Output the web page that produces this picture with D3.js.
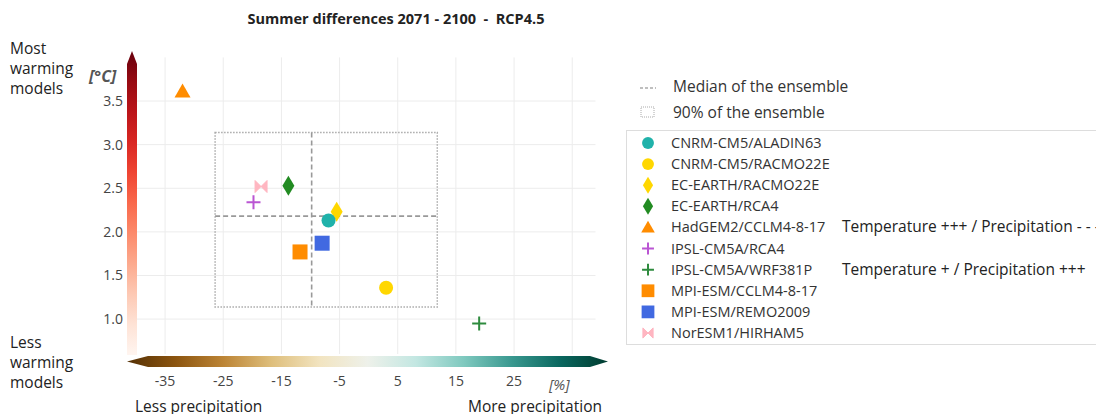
<!DOCTYPE html>
<html>
<head>
<meta charset="utf-8">
<script src="https://cdn.jsdelivr.net/npm/d3@7"></script>
<style>
  body { margin: 0; background: #fff; }
  svg { display: block; font-family: "Open Sans", "Noto Sans", sans-serif; }
</style>
</head>
<body>
<svg id="chart" width="1096" height="414"></svg>
<script>
// data
const models = ["CNRM-CM5/ALADIN63", "CNRM-CM5/RACMO22E", "EC-EARTH/RACMO22E", "EC-EARTH/RCA4",
  "HadGEM2/CCLM4-8-17", "IPSL-CM5A/RCA4", "IPSL-CM5A/WRF381P", "MPI-ESM/CCLM4-8-17",
  "MPI-ESM/REMO2009", "NorESM1/HIRHAM5"];
const precip = [-6.9, 3.0, -5.5, -13.8, -32.0, -19.8, 19.0, -11.8, -8.0, -18.5];
const temp = [2.13, 1.36, 2.23, 2.53, 3.61, 2.34, 0.95, 1.77, 1.87, 2.52];
const shapes = ["circle", "circle", "diamond", "diamond", "triangle", "plus", "plus", "square", "square", "bowtie"];
const colors = ["#20b2aa", "#ffd700", "#ffd700", "#228b22", "#ff8c00", "#ba55d3", "#2e8b3e", "#ff8c00", "#4169e1", "#ffb6c1"];
const notes = ["", "", "", "", "Temperature +++ / Precipitation - - -", "", "Temperature + / Precipitation +++", "", "", ""];
const xTicks = [-35, -25, -15, -5, 5, 15, 25];
const yTicks = [1.0, 1.5, 2.0, 2.5, 3.0, 3.5];
const medianP = -9.8, medianT = 2.18;
const box90 = {p: [-26.4, 11.8], t: [1.14, 3.14]};

const svg = d3.select("#chart");
const x = d3.scaleLinear().domain([-40, 39]).range([136, 595.5]);
const y = d3.scaleLinear().domain([0.6, 4.0]).range([354, 57.4]);

// grid
const grid = svg.append("g").attr("stroke", "#ececec").attr("stroke-width", 1);
grid.selectAll(".gx").data([-35, -25, -15, -5, 5, 15, 25, 35]).enter().append("line")
  .attr("x1", d => x(d)).attr("x2", d => x(d)).attr("y1", y(4.0)).attr("y2", y(0.6));
grid.selectAll(".gy").data(yTicks).enter().append("line")
  .attr("y1", d => y(d)).attr("y2", d => y(d)).attr("x1", x(-40)).attr("x2", x(39));

// gradients
const defs = svg.append("defs");
const gv = defs.append("linearGradient").attr("id", "reds").attr("x1", 0).attr("y1", 1).attr("x2", 0).attr("y2", 0);
d3.range(0, 1.01, 0.1).forEach(t => gv.append("stop").attr("offset", t).attr("stop-color", d3.interpolateReds(t)));
const gh = defs.append("linearGradient").attr("id", "brbg");
d3.range(0, 1.01, 0.1).forEach(t => gh.append("stop").attr("offset", t).attr("stop-color", d3.interpolateBrBG(t)));

// vertical colorbar with arrow on top
svg.append("path").attr("fill", "url(#reds)")
  .attr("d", "M127,355 L127,64 L132,51 L137,64 L137,355 Z");
// horizontal colorbar with arrows both ends
svg.append("path").attr("fill", "url(#brbg)")
  .attr("d", "M127,361.5 L148,356 L590,356 L608,361.5 L590,367 L148,367 Z");

// axis labels
const tickStyle = sel => sel.attr("font-size", 14).attr("fill", "#444");
svg.selectAll(".xt").data(xTicks).enter().append("text")
  .attr("x", d => x(d)).attr("y", 386).attr("text-anchor", "middle").text(d => d).call(tickStyle);
svg.selectAll(".yt").data(yTicks).enter().append("text")
  .attr("x", 123).attr("y", d => y(d) + 5).attr("text-anchor", "end").text(d => d.toFixed(1)).call(tickStyle);
svg.append("text").attr("x", 89).attr("y", 82).attr("font-size", 16).attr("font-style", "italic").attr("font-weight", "bold")
  .attr("fill", "#555").text("[°C]");
svg.append("text").attr("x", 549).attr("y", 390).attr("font-size", 15).attr("font-style", "italic")
  .attr("fill", "#555").text("[%]");

// title
svg.append("text").attr("x", 396).attr("y", 24).attr("text-anchor", "middle").attr("font-size", 14.5)
  .attr("font-weight", "bold").attr("fill", "#222").attr("xml:space", "preserve")
  .text("Summer differences 2071 - 2100  -  RCP4.5");

// side captions
const cap = (lines, x0, y0) => lines.forEach((l, i) => svg.append("text").attr("x", x0).attr("y", y0 + i * 20)
  .attr("font-size", 15.5).attr("fill", "#222").text(l));
cap(["Most", "warming", "models"], 10, 54);
cap(["Less", "warming", "models"], 10, 348);
svg.append("text").attr("x", 135).attr("y", 412).attr("font-size", 15.5).attr("fill", "#222").text("Less precipitation");
svg.append("text").attr("x", 468).attr("y", 412).attr("font-size", 15.5).attr("fill", "#222").text("More precipitation");

// ensemble box and medians
svg.append("rect").attr("x", x(box90.p[0])).attr("y", y(box90.t[1]))
  .attr("width", x(box90.p[1]) - x(box90.p[0])).attr("height", y(box90.t[0]) - y(box90.t[1]))
  .attr("fill", "none").attr("stroke", "#aaa").attr("stroke-width", 1.5).attr("stroke-dasharray", "1.5,1.5");
svg.append("line").attr("x1", x(medianP)).attr("x2", x(medianP)).attr("y1", y(box90.t[1])).attr("y2", y(box90.t[0]))
  .attr("stroke", "#999").attr("stroke-width", 1.6).attr("stroke-dasharray", "5,3");
svg.append("line").attr("x1", x(box90.p[0])).attr("x2", x(box90.p[1])).attr("y1", y(medianT)).attr("y2", y(medianT))
  .attr("stroke", "#999").attr("stroke-width", 1.6).attr("stroke-dasharray", "5,3");

// markers
function marker(g, shape, color, s) {
  if (shape === "circle") g.append("circle").attr("r", 7 * s).attr("fill", color);
  else if (shape === "square") g.append("rect").attr("x", -7.5 * s).attr("y", -7.5 * s)
    .attr("width", 15 * s).attr("height", 15 * s).attr("fill", color);
  else if (shape === "triangle") g.append("path").attr("fill", color)
    .attr("d", `M0,${-8 * s} L${8 * s},${6 * s} L${-8 * s},${6 * s} Z`);
  else if (shape === "diamond") g.append("path").attr("fill", color)
    .attr("d", `M0,${-10 * s} L${6 * s},0 L0,${10 * s} L${-6 * s},0 Z`);
  else if (shape === "plus") g.append("path").attr("stroke", color).attr("stroke-width", 2).attr("fill", "none")
    .attr("d", `M${-7 * s},0 H${7 * s} M0,${-7 * s} V${7 * s}`);
  else if (shape === "bowtie") g.append("path").attr("fill", color).attr("stroke", color).attr("stroke-width", 1)
    .attr("d", `M${-6 * s},${-6 * s} L${6 * s},${6 * s} L${6 * s},${-6 * s} L${-6 * s},${6 * s} Z`);
}

const drawOrder = [4, 9, 3, 5, 2, 0, 8, 7, 1, 6];
drawOrder.forEach(i => {
  const g = svg.append("g").attr("transform", `translate(${x(precip[i])},${y(temp[i])})`);
  marker(g, shapes[i], colors[i], 1);
});

// legend
svg.append("line").attr("x1", 640).attr("x2", 656).attr("y1", 88).attr("y2", 88)
  .attr("stroke", "#aaa").attr("stroke-width", 1.3).attr("stroke-dasharray", "3,2");
svg.append("text").attr("x", 673).attr("y", 92).attr("font-size", 15.5).attr("fill", "#333").text("Median of the ensemble");
svg.append("rect").attr("x", 641).attr("y", 107).attr("width", 13).attr("height", 10).attr("fill", "none")
  .attr("stroke", "#aaa").attr("stroke-dasharray", "1,1");
svg.append("text").attr("x", 673).attr("y", 118).attr("font-size", 15.5).attr("fill", "#333").text("90% of the ensemble");

svg.append("rect").attr("x", 626.5).attr("y", 130.5).attr("width", 480).attr("height", 214)
  .attr("fill", "#fff").attr("stroke", "#ddd");
const rowY = d3.scaleLinear().domain([0, 9]).range([143, 333]);
models.forEach((m, i) => {
  const g = svg.append("g").attr("transform", `translate(648,${rowY(i)})`);
  marker(g, shapes[i], colors[i], 0.85);
  svg.append("text").attr("x", 671).attr("y", rowY(i) + 5).attr("font-size", 14.5).attr("fill", "#333").text(m);
  if (notes[i]) svg.append("text").attr("x", 842).attr("y", rowY(i) + 5).attr("font-size", 15.5)
    .attr("fill", "#222").attr("xml:space", "preserve").text(notes[i]);
});
</script>
</body>
</html>
